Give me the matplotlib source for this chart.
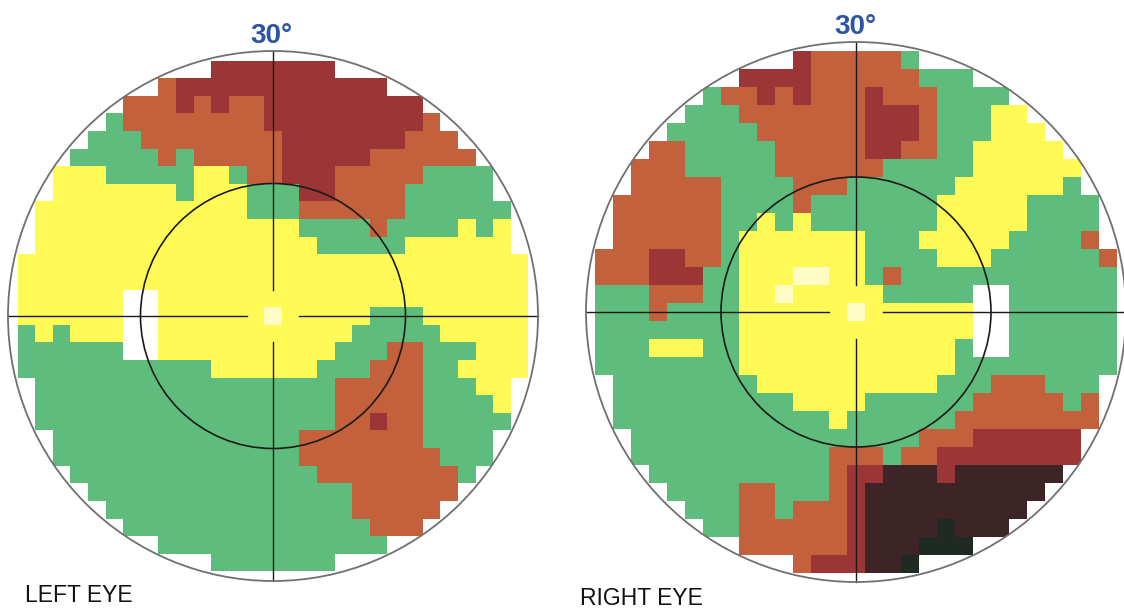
import numpy as np
import matplotlib.pyplot as plt
from matplotlib.colors import ListedColormap
from matplotlib.patches import Circle

# one string per grid row, top to bottom (rows -14..14); each string covers
# only the cells that fall inside the 30 degree field, centred on fixation
# W white, L pale yellow, Y yellow, G green, O orange, R dark red, K dark brown, B black-green
left_rows = [
    "RRRRRRR",
    "ORRRRRRRRRRRR",
    "OOOROROORRRRRRRRR",
    "GOOOOOOOORRRRRRRRRO",
    "GGGOOOOOOOORRRRRRROOO",
    "GGGGGOGOOOOORRRRROOOOOO",
    "YYYGGGGGYYGOORRROOOOOGGGG",
    "YYYYYYYGYYYGGGRROOOOGGGGG",
    "YYYYYYYYYYYYGGGOOOOOOGGGGGG",
    "YYYYYYYYYYYYYYYGGGGOGGGGYGY",
    "YYYYYYYYYYYYYYYYGGGGGYYYYYY",
    "YYYYYYYYYYYYYYYYYYYYYYYYYYYYY",
    "YYYYYYYYYYYYYYYYYYYYYYYYYYYYY",
    "YYYYYYWWYYYYYYYYYYYYYYYYYYYYY",
    "YYYYYYWWYYYYYYLYYYYYGGGYYYYYY",
    "GYGYYYWWYYYYYYYYYYYGGGGGYYYYY",
    "GGGGGGWWYYYYYYYYYYGGGOOGGGYYY",
    "GGGGGGGGGGGYYYYYYGGGOOOGGYYYY",
    "GGGGGGGGGGGGGGGGGOOOOOGGGYY",
    "GGGGGGGGGGGGGGGGGOOOOOGGGGY",
    "GGGGGGGGGGGGGGGGGOOROOGGGGG",
    "GGGGGGGGGGGGGGOOOOOOOGGGG",
    "GGGGGGGGGGGGGGOOOOOOOOGGG",
    "GGGGGGGGGGGGGGOOOOOOOOG",
    "GGGGGGGGGGGGGGGOOOOOO",
    "GGGGGGGGGGGGGGOOOOO",
    "GGGGGGGGGGGGGGOOO",
    "GGGGGGGGGGGGG",
    "GGGGGGG",
]

right_rows = [
    "ROOOOOG",
    "RRRROOOOOOGGG",
    "GOOROROOOROOOGGGG",
    "GGGOOOOOOORRROGGGYY",
    "GGGGGOOOOOORRROGGGYYY",
    "OOGGGGGOOOOORROOGGYYYYY",
    "OOOGGGGGOOOOOOGGGGGYYYYYY",
    "OOOOOGGGGOOOGGGGGGYYYYYYG",
    "OOOOOOGGGGOGGGGGGGYYYYYGGGG",
    "OOOOOOGGYGYGGGGGGGYYYYYGGGG",
    "OOOOOOGYYYYYYYGGGYYYYYGGGGO",
    "OOORROOGYYYYYYYGGGGYYYGGGGGGO",
    "OOORRRGGYYYLLYYGOGGGGGGGGGGGG",
    "GGGOOOGGYYLYYYYYGGGGGWWGGGGGG",
    "GGGOGGGGYYYYYYLYYYYYYWWGGGGGG",
    "GGGGGGGGYYYYYYYYYYYYYWWGGGGGG",
    "GGGYYYGGYYYYYYYYYYYYGWWGGGGGG",
    "GGGGGGGGYYYYYYYYYYYYGGGGGGGGG",
    "GGGGGGGGYYYYYYYYYYGGGOOOGGG",
    "GGGGGGGGGGYYYYGGGGGGOOOOOGO",
    "GGGGGGGGGGGGYGGGGGGOOOOOOOO",
    "GGGGGGGGGGGGGGGGOOORRRRRR",
    "GGGGGGGGGGGOOOGOORRRRRRRR",
    "GGGGGGGGGGORRKKKRKKKKKK",
    "GGGGOOGGGORKKKKKKKKKK",
    "GGGOOGOOORKKKKKKKKK",
    "GGOOOOOORKKKKBKKK",
    "OOOOOORKKKBBB",
    "ORRRKKB",
]

palette = {
    'W': '#FFFFFF', 'L': '#FFFCC6', 'Y': '#FFFA55', 'G': '#5EBD7C',
    'O': '#C2613B', 'R': '#9C3535', 'K': '#3D2527', 'B': '#1F2A22',
}
codes = list(palette)
cmap = ListedColormap([palette[k] for k in codes])


def to_grid(rows):
    grid = np.full((31, 31), np.nan)
    for i, row in enumerate(rows):
        r = i - len(rows) // 2
        half = len(row) // 2
        for j, ch in enumerate(row):
            grid[r + 15, j - half + 15] = codes.index(ch)
    return grid


def draw_eye(ax, rows, cx, cy, cell, radius):
    grid = np.ma.masked_invalid(to_grid(rows))
    ext = [cx - 15.5 * cell, cx + 15.5 * cell, cy + 15.5 * cell, cy - 15.5 * cell]
    im = ax.imshow(grid, cmap=cmap, vmin=-0.5, vmax=len(codes) - 0.5,
                   extent=ext, interpolation='nearest', origin='upper', zorder=1)
    im.set_clip_path(Circle((cx, cy), radius, transform=ax.transData))

    ax.add_patch(Circle((cx, cy), radius, fill=False, ec='#707070', lw=1.3, zorder=3))
    ax.add_patch(Circle((cx, cy), radius / 2, fill=False, ec='#1a1a1a', lw=1.2, zorder=3))

    gap = 1.5 * cell
    kw = dict(color='#1a1a1a', lw=1.0, zorder=2)
    ax.plot([cx - radius, cx - gap], [cy, cy], **kw)
    ax.plot([cx + gap, cx + radius], [cy, cy], **kw)
    ax.plot([cx, cx], [cy - radius, cy - gap], **kw)
    ax.plot([cx, cx], [cy + gap, cy + radius], **kw)


fig = plt.figure(figsize=(11.24, 6.09), dpi=100)
ax = fig.add_axes([0, 0, 1, 1])
ax.set_xlim(0, 1124)
ax.set_ylim(609, 0)
ax.axis('off')

draw_eye(ax, left_rows, 273, 316, 17.6, 265)
draw_eye(ax, right_rows, 856, 312, 18.0, 270)

title_kw = dict(fontsize=20, fontweight='bold', color='#2C54A4',
                family='Liberation Sans', ha='center', va='baseline')
ax.text(271, 43, '30°', **title_kw)
ax.text(855, 34, '30°', **title_kw)

label_kw = dict(fontsize=16.5, color='#111111', family='Liberation Sans',
                ha='left', va='baseline')
ax.text(25, 602, 'LEFT EYE', **label_kw)
ax.text(580, 605, 'RIGHT EYE', **label_kw)

fig.savefig('out.png', dpi=100)
